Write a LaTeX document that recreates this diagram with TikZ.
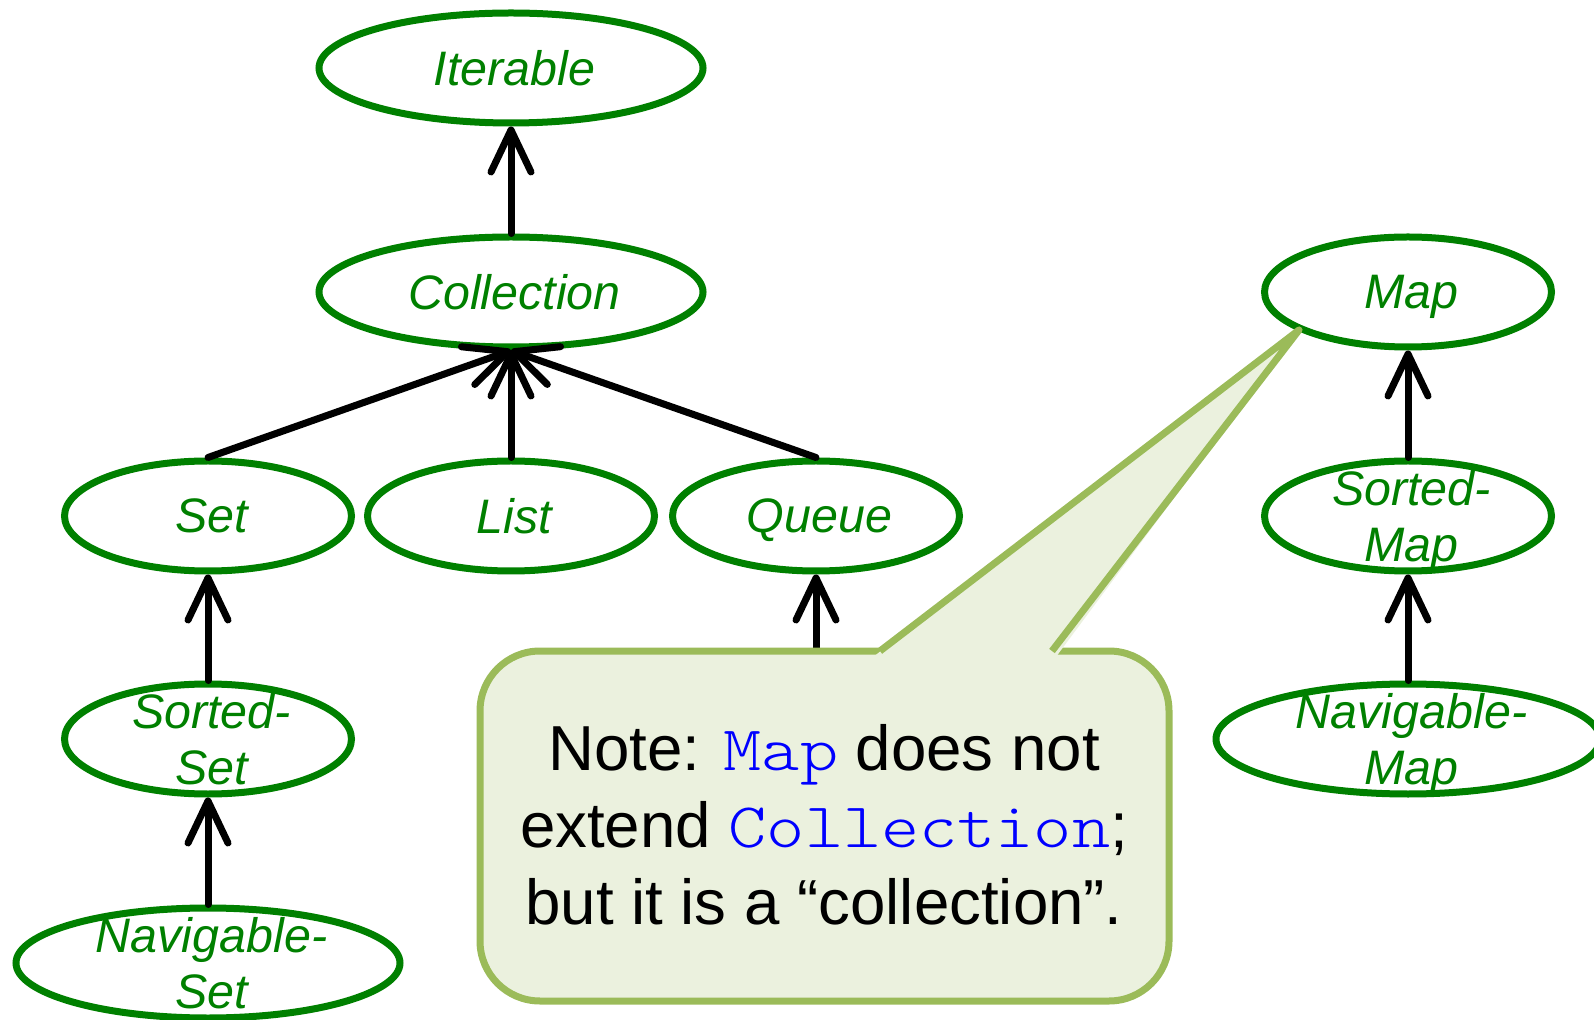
\documentclass[tikz,border=0pt]{standalone}
\usepackage{fontspec}
\setmainfont{Liberation Sans}
\newfontfamily\codefont[FakeStretch=1.1429]{lmmonolt10-regular.otf}
\usetikzlibrary{arrows.meta}
\usetikzlibrary{shapes.geometric}
\definecolor{jgreen}{RGB}{0,128,0}
\definecolor{noteline}{RGB}{155,187,89}
\definecolor{notefill}{RGB}{235,241,222}
\definecolor{codeblue}{RGB}{0,0,255}
\tikzset{>={Straight Barb[length=21pt,width=20pt,round]}}
\tikzset{
  iface/.style={ellipse,draw=jgreen,line width=3.5pt,inner sep=0pt,
                minimum width=143.5pt,minimum height=55pt,
                label={[iname]center:{#1}}},
  wide iface/.style={iface={#1},minimum width=192pt},
  iname/.style={text=jgreen,align=center,text depth=0pt,xshift=1.75pt,
                font=\fontsize{24.2}{28}\selectfont\itshape},
  extends/.style={->,line width=3.5pt,line cap=round},
  note/.style={draw=noteline,fill=notefill,line width=3.5pt}}
\newcommand\code[1]{\textcolor{codeblue}{\codefont #1}}

\begin{document}
\begin{tikzpicture}[x=0.5pt,y=-0.5pt]
  \useasboundingbox (0,0) rectangle (1594,1020);

  % COLLECTION SIDE
  \node[wide iface=Iterable] (iter) at (511,68) {};
  \node[wide iface=Collection] (coll) at (511,292) {};
  \node[iface=Set] (set) at (208,516) {};
  \node[iface=List] (list) at (511,516) {};
  \node[iface=Queue] (queue) at (816,516) {};
  \node[iface={Sorted-\\Set}] (sset) at (208,739) {};
  \node[wide iface={Navigable-\\Set}] (nset) at (208,963) {};
  \coordinate (deque) at (816,720); % hidden under the note

  % MAP SIDE
  \node[iface=Map] (map) at (1408,292) {};
  \node[iface={Sorted-\\Map}] (smap) at (1408,516) {};
  \node[wide iface={Navigable-\\Map}] (nmap) at (1408,739) {};

  % ARROWS
  \draw[extends] (coll) -- (iter);
  \draw[extends] (set.north) -- (coll.south);
  \draw[extends] (list) -- (coll);
  \draw[extends] (queue.north) -- (coll.south);
  \draw[extends] (sset) -- (set);
  \draw[extends] (nset) -- (sset);
  \draw[extends] (deque) -- (queue);
  \draw[extends] (smap) -- (map);
  \draw[extends] (nmap) -- (smap);

  % NOTE
  \coordinate (tip) at (1299,330);
  \filldraw[note,rounded corners=30pt] (480,651) rectangle (1169,1001);
  \fill[notefill] (875,655.5) -- (tip) -- (1057,655.5) -- cycle;
  \draw[note,fill=none,line join=round] (880,651) -- (tip) -- (1052,651);
  \node[font=\fontsize{31.8}{38.5}\selectfont,align=center] (notetext) at (824,825)
    {Note: \code{Map} does not\\extend \code{Collection};\\but it is a “collection”.};
\end{tikzpicture}
\end{document}
